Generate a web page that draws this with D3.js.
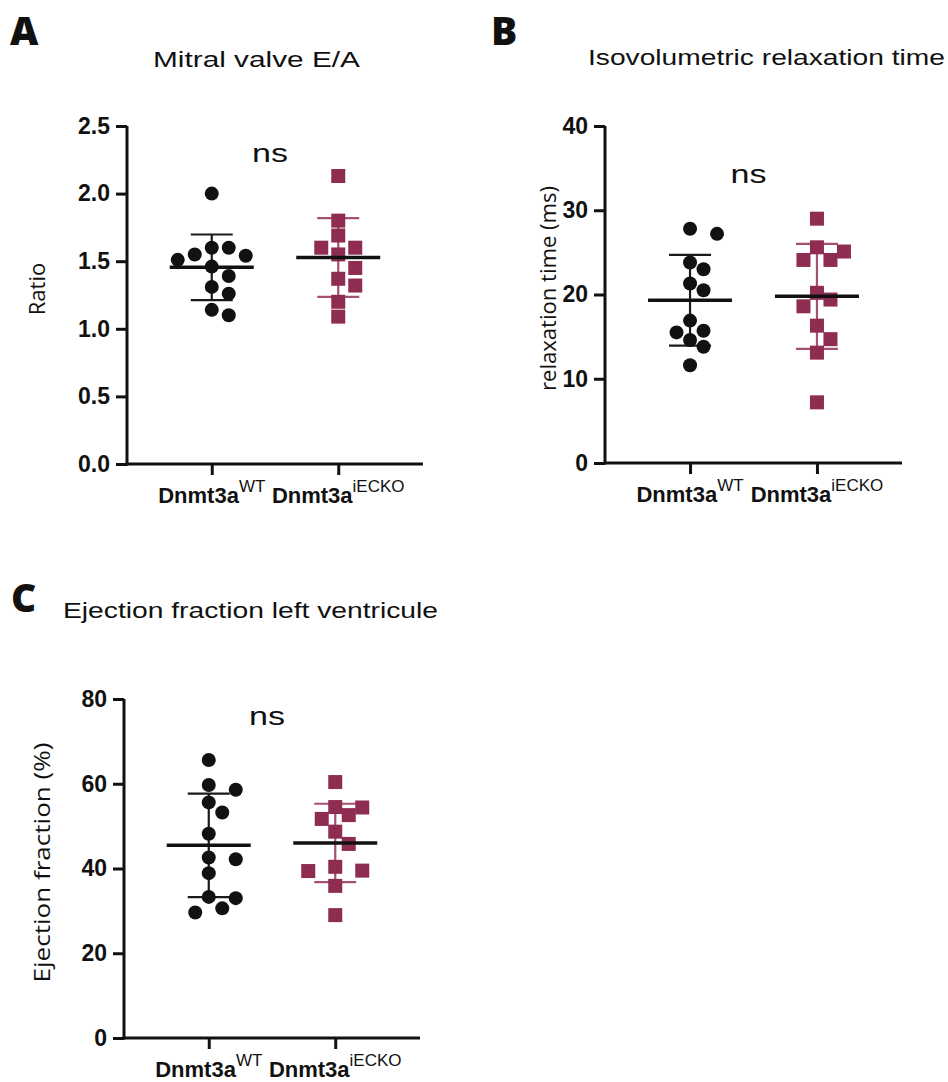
<!DOCTYPE html>
<html>
<head>
<meta charset="utf-8">
<script src="https://cdn.jsdelivr.net/npm/d3@7"></script>
<style>
  body { margin: 0; background: #fff; }
  text { font-family: "Liberation Sans", Arial, sans-serif; fill: #111; }
</style>
</head>
<body>
<div id="chart"></div>
<script>
// values, one array per group
var groups = ["WT", "iECKO"];

var ratioWT = [2.0, 1.60, 1.60, 1.55, 1.54, 1.51, 1.46, 1.39, 1.31, 1.26, 1.14, 1.10];
var ratioKO = [2.13, 1.80, 1.69, 1.60, 1.60, 1.55, 1.45, 1.37, 1.32, 1.20, 1.09];

var relaxWT = [27.8, 27.2, 23.8, 23.0, 21.3, 20.5, 16.9, 15.7, 15.5, 14.6, 13.8, 11.6];
var relaxKO = [29.0, 25.6, 25.1, 24.1, 24.1, 20.2, 19.4, 18.6, 16.3, 14.7, 13.1, 7.2];

var efWT = [65.6, 59.7, 58.6, 55.6, 53.2, 48.2, 42.6, 42.2, 38.9, 33.3, 33.0, 30.6, 29.6];
var efKO = [60.4, 54.5, 54.4, 52.6, 51.7, 48.7, 45.8, 40.4, 39.5, 39.4, 35.9, 29.0];

var ratioTicks = [0, 0.5, 1.0, 1.5, 2.0, 2.5];
var relaxTicks = [0, 10, 20, 30, 40];
var efTicks = [0, 20, 40, 60, 80];

var W = 948, H = 1082;
var koColor = "#8f2c52", koBar = "#a5506f";

var svg = d3.select("#chart").append("svg")
  .attr("width", W)
  .attr("height", H)
  .style("background", "#fff");

var panels = [
  { letter: "A", lx: 10, ly: 45, title: "Mitral valve E/A", tx: 153, ty: 67, tw: 207,
    ylab: "Ratio", ylx: 37, ylw: 0,
    left: 127, top: 126, width: 296, height: 338, ticks: ratioTicks, fmt: ".1f",
    wt: ratioWT, ko: ratioKO, ns: 2.3, step: 17 },
  { letter: "B", lx: 491, ly: 45, title: "Isovolumetric relaxation time", tx: 588, ty: 65, tw: 357,
    ylab: "relaxation time (ms)", ylx: 548, ylw: 205,
    left: 605, top: 126, width: 297, height: 337, ticks: relaxTicks, fmt: "d",
    wt: relaxWT, ko: relaxKO, ns: 34.3, step: 13.5 },
  { letter: "C", lx: 11, ly: 612, title: "Ejection fraction left ventricule", tx: 63, ty: 618, tw: 375,
    ylab: "Ejection fraction (%)", ylx: 42, ylw: 240,
    left: 124, top: 699, width: 296, height: 339, ticks: efTicks, fmt: "d",
    wt: efWT, ko: efKO, ns: 76, step: 13.5 }
];

// simple beeswarm: keep points from overlapping, grow outward from the centre
function swarm(vals, y, step, minD) {
  var order = vals.map(function(v, i) { return i; })
    .sort(function(a, b) { return vals[b] - vals[a]; });
  var placed = [], out = [];
  order.forEach(function(i) {
    var cy = y(vals[i]);
    for (var k = 0; k < 20; k++) {
      var off = (k % 2 ? 1 : -1) * Math.ceil(k / 2) * step;
      var ok = placed.every(function(p) {
        var dx = p.dx - off, dy = p.cy - cy;
        return Math.sqrt(dx * dx + dy * dy) >= minD;
      });
      if (ok) { placed.push({ dx: off, cy: cy }); out.push({ v: vals[i], dx: off }); break; }
    }
  });
  return out;
}

panels.forEach(function(p) {
  var g = svg.append("g").attr("transform", "translate(" + p.left + "," + p.top + ")");

  var y = d3.scaleLinear().domain([0, d3.max(p.ticks)]).range([p.height, 0]);
  var x = d3.scalePoint().domain(groups).range([0, p.width]).padding(0.67);

  // panel letter + title
  svg.append("text")
    .attr("x", p.lx).attr("y", p.ly)
    .style("font-family", "'Open Sans', sans-serif")
    .style("font-weight", 800)
    .style("font-size", "39px")
    .text(p.letter);

  svg.append("text")
    .attr("x", p.tx).attr("y", p.ty)
    .style("font-size", "22px")
    .attr("textLength", p.tw)
    .attr("lengthAdjust", "spacingAndGlyphs")
    .text(p.title);

  // y label
  var yl = svg.append("text")
    .attr("transform", "translate(" + (p.ylx + 8) + "," + (p.top + p.height / 2 - 6) + ") rotate(-90)")
    .attr("text-anchor", "middle")
    .style("font-family", "'Open Sans', sans-serif")
    .style("font-size", "22px")
    .text(p.ylab);
  if (p.ylw) yl.attr("textLength", p.ylw).attr("lengthAdjust", "spacingAndGlyphs");

  // axes
  var yAxis = d3.axisLeft(y).tickValues(p.ticks).tickFormat(d3.format(p.fmt))
    .tickSize(11).tickPadding(6);
  var ya = g.append("g").attr("class", "y axis").call(yAxis);
  ya.select(".domain").attr("d", "M0," + (p.height + 1.5) + "V0");

  var xAxis = d3.axisBottom(x).tickSize(11).tickFormat("");
  var xa = g.append("g").attr("class", "x axis")
    .attr("transform", "translate(0," + p.height + ")")
    .call(xAxis);
  xa.select(".domain").attr("d", "M-1.5,0H" + p.width);

  g.selectAll(".axis path, .axis line")
    .attr("stroke", "#111")
    .attr("stroke-width", 3);
  ya.selectAll("text")
    .style("font-size", "23px")
    .style("font-weight", "bold")
    .attr("fill", "#111");

  // category labels with superscripts
  groups.forEach(function(grp) {
    var t = g.append("text")
      .attr("x", x(grp))
      .attr("y", p.height + 39)
      .attr("text-anchor", "middle");
    t.append("tspan").style("font-weight", "bold").style("font-size", "22px").text("Dnmt3a");
    t.append("tspan").attr("dy", -11).style("font-size", "17px").text(grp);
  });

  // ns label
  g.append("text")
    .attr("x", (x(groups[0]) + x(groups[1])) / 2 - 5)
    .attr("y", y(p.ns))
    .attr("text-anchor", "middle")
    .attr("dy", "0.35em")
    .style("font-size", "25px")
    .attr("textLength", 36)
    .attr("lengthAdjust", "spacingAndGlyphs")
    .text("ns");

  var sets = [
    { key: groups[0], vals: p.wt, color: "#111", bar: "#1a1a1a" },
    { key: groups[1], vals: p.ko, color: koColor, bar: koBar }
  ];

  sets.forEach(function(s) {
    var cx = x(s.key);
    var m = d3.mean(s.vals), sd = d3.deviation(s.vals);
    var pts = swarm(s.vals, y, p.step, 14.5);

    // error bar (mean ± SD)
    var eb = g.append("g").attr("stroke", s.bar).attr("stroke-width", 2.2);
    eb.append("line").attr("x1", cx).attr("x2", cx).attr("y1", y(m + sd)).attr("y2", y(m - sd));
    [m + sd, m - sd].forEach(function(v) {
      eb.append("line").attr("x1", cx - 21).attr("x2", cx + 21).attr("y1", y(v)).attr("y2", y(v));
    });

    // points
    if (s.key === groups[0]) {
      g.selectAll(null).data(pts).enter().append("circle")
        .attr("cx", function(d) { return cx + d.dx; })
        .attr("cy", function(d) { return y(d.v); })
        .attr("r", 7)
        .attr("fill", s.color);
    } else {
      g.selectAll(null).data(pts).enter().append("rect")
        .attr("x", function(d) { return cx + d.dx - 7; })
        .attr("y", function(d) { return y(d.v) - 7; })
        .attr("width", 14)
        .attr("height", 14)
        .attr("fill", s.color);
    }

    // mean line
    g.append("line")
      .attr("x1", cx - 42).attr("x2", cx + 42)
      .attr("y1", y(m)).attr("y2", y(m))
      .attr("stroke", "#111")
      .attr("stroke-width", 3.5);
  });
});
</script>
</body>
</html>
